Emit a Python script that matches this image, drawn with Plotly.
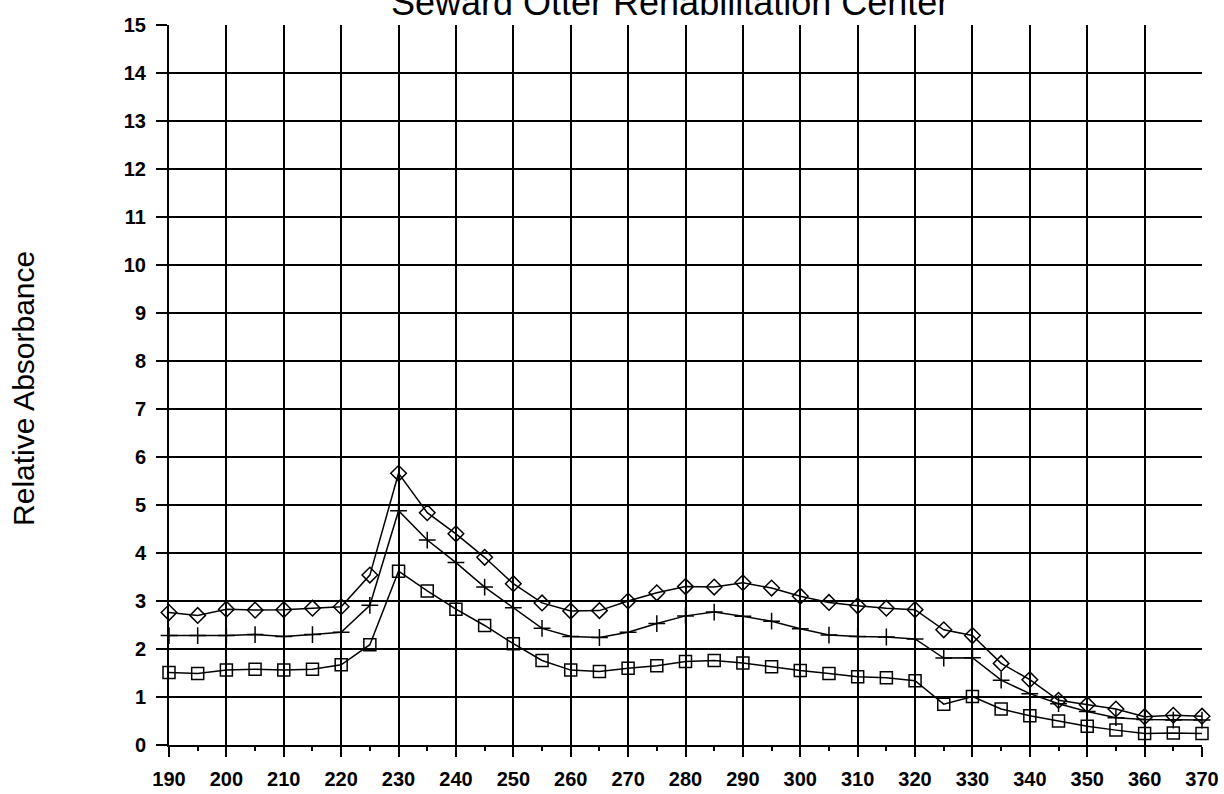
import plotly.graph_objects as go

# Wavelength (nm) and relative absorbance for three samples
wavelength = list(range(190, 371, 5))

sample_diamond = [2.76, 2.70, 2.83, 2.81, 2.82, 2.85, 2.88, 3.54, 5.66, 4.84,
                  4.40, 3.91, 3.36, 2.96, 2.79, 2.80, 3.00, 3.17, 3.30, 3.29,
                  3.38, 3.27, 3.10, 2.97, 2.90, 2.85, 2.82, 2.40, 2.28, 1.70,
                  1.36, 0.93, 0.84, 0.75, 0.59, 0.62, 0.60]

sample_plus = [2.28, 2.28, 2.28, 2.30, 2.26, 2.30, 2.35, 2.91, 4.88, 4.27,
               3.80, 3.29, 2.86, 2.43, 2.26, 2.24, 2.35, 2.53, 2.69, 2.77,
               2.68, 2.58, 2.42, 2.29, 2.26, 2.25, 2.21, 1.81, 1.82, 1.35,
               1.07, 0.86, 0.70, 0.57, 0.53, 0.52, 0.52]

sample_square = [1.51, 1.49, 1.56, 1.58, 1.56, 1.58, 1.67, 2.09, 3.62, 3.21,
                 2.83, 2.49, 2.11, 1.76, 1.56, 1.53, 1.60, 1.65, 1.74, 1.76,
                 1.71, 1.63, 1.55, 1.49, 1.42, 1.40, 1.34, 0.85, 1.01, 0.75,
                 0.61, 0.50, 0.39, 0.31, 0.24, 0.25, 0.24]

x_ticks = list(range(190, 371, 10))
y_ticks = list(range(0, 16))

title_text = "Seward Otter Rehabilitation Center"
y_title = "Relative Absorbance"

fig = go.Figure()

series = [
    (sample_diamond, "diamond-open", 12),
    (sample_plus, "cross-thin-open", 12),
    (sample_square, "square-open", 12),
]
for values, symbol, size in series:
    fig.add_trace(go.Scatter(
        x=wavelength, y=values, mode="lines+markers",
        line=dict(color="black", width=1.5),
        marker=dict(symbol=symbol, size=size, color="black",
                    line=dict(color="black", width=1.5)),
        showlegend=False, cliponaxis=False,
    ))

tick_font = dict(family="Liberation Sans", size=20, color="black",
                 weight="bold")

fig.update_xaxes(
    range=[190, 370], tickvals=x_ticks, ticktext=[str(v) for v in x_ticks],
    showgrid=True, gridcolor="black", gridwidth=2,
    zeroline=False, showline=True, linecolor="black", linewidth=2,
    ticks="outside", ticklen=10, tickwidth=2, tickcolor="black",
    minor=dict(dtick=5, tick0=190, ticks="outside", ticklen=4,
               tickwidth=1.5, tickcolor="black", showgrid=False),
    tickfont=tick_font, ticklabelstandoff=5, automargin=False,
)
fig.update_yaxes(
    range=[0, 15], tickvals=y_ticks, ticktext=[str(v) for v in y_ticks],
    showgrid=True, gridcolor="black", gridwidth=2,
    zeroline=False, showline=True, linecolor="black", linewidth=2,
    ticks="outside", ticklen=11, tickwidth=2, tickcolor="black",
    tickfont=tick_font, ticklabelstandoff=6, automargin=False,
)

fig.add_annotation(
    text=title_text, xref="paper", yref="paper", x=0.485, y=1.0,
    yanchor="middle", yshift=23, showarrow=False,
    font=dict(family="Liberation Sans", size=36, color="black"),
)
fig.add_annotation(
    text=y_title, xref="paper", yref="paper", x=-0.141, y=0.495,
    textangle=-90, xanchor="center", yanchor="middle", showarrow=False,
    font=dict(family="Liberation Sans", size=30, color="black"),
)

fig.update_layout(
    width=1224, height=794,
    margin=dict(l=169, r=22, t=25, b=49, autoexpand=False),
    paper_bgcolor="white", plot_bgcolor="white",
)

fig.write_html("out.html")
